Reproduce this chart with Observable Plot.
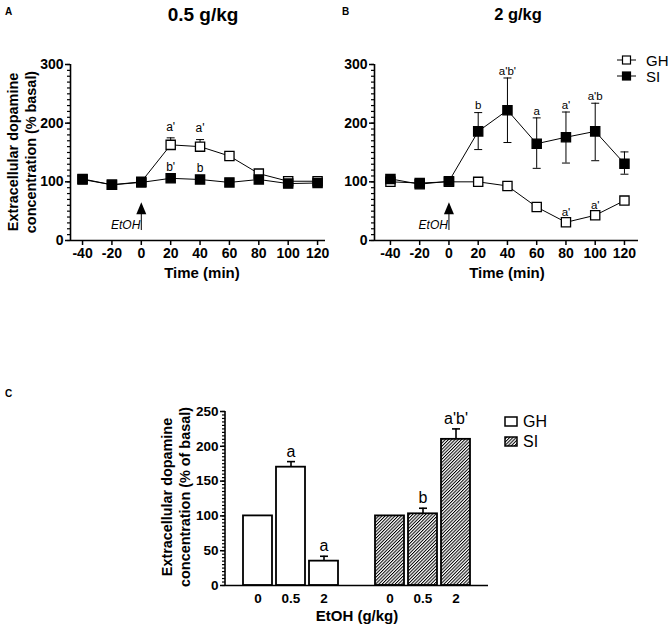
<!DOCTYPE html>
<html><head><meta charset="utf-8">
<script src="https://cdn.jsdelivr.net/npm/d3@7"></script>
<script src="https://cdn.jsdelivr.net/npm/@observablehq/plot@0.6"></script>
<style>
body{margin:0;background:#fff;}
#fig{position:relative;width:669px;height:626px;overflow:hidden;background:#fff;}
#fig > svg{position:absolute;}
#fig text{-webkit-font-smoothing:antialiased;}
</style></head>
<body><div id="fig"></div>
<script>
// ---------- data ----------
const times = [-40, -20, 0, 20, 40, 60, 80, 100, 120];
const groups = ["GH", "SI"];
// Panel A: 0.5 g/kg
const a_GH     = [105, 95, 100, 163, 160, 144, 114, 101, 101];
const a_GH_hi  = [null, null, null, 175, 172, null, null, null, null];
const a_GH_sig = ["", "", "", "a'", "a'", "", "", "", ""];
const a_SI     = [104, 95, 99, 106, 104, 99, 104, 97, 98];
const a_SI_sig = ["", "", "", "b'", "b", "", "", "", ""];
// Panel B: 2 g/kg
const b_GH     = [100, 98, 100, 100, 93, 57, 31, 43, 68];
const b_GH_sig = ["", "", "", "", "", "", "a'", "a'", ""];
const b_SI     = [105, 96, 101, 186, 222, 165, 176, 186, 131];
const b_SI_lo  = [null, null, null, 155, 167, 123, 132, 136, 113];
const b_SI_hi  = [null, null, null, 218, 277, 209, 219, 234, 151];
const b_SI_sig = ["", "", "", "b", "a'b'", "a", "a'", "a'b", ""];
// Panel C
const doses    = ["0", "0.5", "2"];
const c_GH     = [100, 170, 35];
const c_GH_hi  = [null, 178, 42];
const c_GH_sig = ["", "a", "a"];
const c_SI     = [100, 103, 210];
const c_SI_hi  = [null, 111, 225];
const c_SI_sig = ["", "b", "a'b'"];
// ticks
const yTicksTime = [0, 100, 200, 300];
const yMinorTime = d3.range(0, 301, 10);
const xTicksTime = [-40, -20, 0, 20, 40, 60, 80, 100, 120];
const yTicksBar  = [0, 50, 100, 150, 200, 250];
const yMinorBar  = d3.range(0, 251, 5);
// EtOH injection marker (in data units)
const etoh = {t: 0, tip: 65, base: 45, tail: 17, labelY: 19};

// ---------- helpers ----------
const FONT = '"Liberation Sans", Arial, Helvetica, sans-serif';
const capSym = {draw(ctx) { ctx.moveTo(-4, 0); ctx.lineTo(4, 0); }};
const triSym = {draw(ctx) { ctx.moveTo(0, -6); ctx.lineTo(5, 6); ctx.lineTo(-5, 6); ctx.closePath(); }};
const series = (g, vals, lo, hi, sig) =>
  times.map((t, i) => ({t, g, v: vals[i], lo: lo ? lo[i] : null, hi: hi ? hi[i] : null, sig: sig ? sig[i] : ""}));
const baseStyle = {fontFamily: FONT, fontSize: "14px", fontWeight: "bold", color: "#000", background: "transparent", overflow: "visible"};

function timePanel({gh, si, width, marginLeft, marginRight, xDomain, ghDy, siDy, sigSize}) {
  const all = [...gh, ...si];
  const withErr = all.filter(d => d.hi != null);
  return Plot.plot({
    width, height: 300, marginLeft, marginRight, marginTop: 64, marginBottom: 60,
    x: {domain: xDomain}, y: {domain: [0, 300]},
    style: baseStyle,
    marks: [
      Plot.axisY(yMinorTime, {tickSize: 3, tickFormat: () => "", label: null, strokeWidth: 1.2}),
      Plot.axisY(yTicksTime, {tickSize: 5, tickPadding: 2, tickFormat: d => String(d), label: null, strokeWidth: 1.5, fontSize: 14, fill: "#000"}),
      Plot.axisX(xTicksTime, {tickSize: 5, tickPadding: 3, tickFormat: d => String(d), label: null, strokeWidth: 1.5, fontSize: 14, fill: "#000"}),
      Plot.ruleY([0], {strokeWidth: 1.6}),
      Plot.ruleX([xDomain[0]], {y1: 0, y2: 300, strokeWidth: 1.6}),
      Plot.ruleX([etoh], {x: "t", y1: "tail", y2: "base", strokeWidth: 1}),
      Plot.dot([etoh], {x: "t", y: d => (d.tip + d.base) / 2, symbol: triSym, fill: "black", stroke: "none"}),
      Plot.text([etoh], {x: "t", y: "labelY", text: () => "EtOH", textAnchor: "end", dx: -1, lineAnchor: "bottom",
        fontStyle: "italic", fontWeight: "normal", fontSize: 12, fill: "#000"}),
      Plot.ruleX(withErr, {x: "t", y1: d => d.lo ?? d.v, y2: "hi", strokeWidth: 1}),
      Plot.dot(withErr, {x: "t", y: "hi", symbol: capSym, stroke: "black", fill: "none", strokeWidth: 1}),
      Plot.dot(withErr.filter(d => d.lo != null), {x: "t", y: "lo", symbol: capSym, stroke: "black", fill: "none", strokeWidth: 1}),
      Plot.line(gh, {x: "t", y: "v", stroke: "black", strokeWidth: 1}),
      Plot.line(si, {x: "t", y: "v", stroke: "black", strokeWidth: 1}),
      Plot.dot(gh, {x: "t", y: "v", symbol: "square", r: 5.2, fill: "white", stroke: "black", strokeWidth: 1.3}),
      Plot.dot(si, {x: "t", y: "v", symbol: "square", r: 5.2, fill: "black", stroke: "black", strokeWidth: 1.3}),
      Plot.text(gh.filter(d => d.sig), {x: "t", y: d => d.hi ?? d.v, text: "sig", dy: ghDy, fontWeight: "normal", fontSize: sigSize, fill: "#000"}),
      Plot.text(si.filter(d => d.sig), {x: "t", y: d => d.hi ?? d.v, text: "sig", dy: siDy, fontWeight: "normal", fontSize: sigSize, fill: "#000"})
    ]
  });
}

const fig = document.getElementById("fig");

// ---------- Panel A ----------
const chartA = timePanel({
  gh: series(groups[0], a_GH, null, a_GH_hi, a_GH_sig),
  si: series(groups[1], a_SI, null, null, a_SI_sig),
  width: 335, marginLeft: 70, marginRight: 10, xDomain: [-48.2, 125.4], ghDy: -11, siDy: -11, sigSize: 12
});
chartA.style.left = "0px"; chartA.style.top = "0px";
fig.appendChild(chartA);

// ---------- Panel B ----------
const chartB = timePanel({
  gh: series(groups[0], b_GH, null, null, b_GH_sig),
  si: series(groups[1], b_SI, b_SI_lo, b_SI_hi, b_SI_sig),
  width: 334, marginLeft: 39, marginRight: 31, xDomain: [-50.9, 129.6], ghDy: -10, siDy: -7, sigSize: 11.5
});
chartB.style.left = "335px"; chartB.style.top = "0px";
fig.appendChild(chartB);

// ---------- Panel C ----------
const slots = [...doses.map(d => groups[0] + "|" + d), "gap", ...doses.map(d => groups[1] + "|" + d)];
const cGH = doses.map((d, i) => ({key: groups[0] + "|" + d, v: c_GH[i], hi: c_GH_hi[i], sig: c_GH_sig[i]}));
const cSI = doses.map((d, i) => ({key: groups[1] + "|" + d, v: c_SI[i], hi: c_SI_hi[i], sig: c_SI_sig[i]}));
const cAll = [...cGH, ...cSI];
const cErr = cAll.filter(d => d.hi != null);
const chartC = Plot.plot({
  width: 500, height: 246, marginLeft: 225, marginRight: 12, marginTop: 31, marginBottom: 41,
  x: {type: "band", domain: slots, paddingInner: 0.134, paddingOuter: 0.49},
  y: {domain: [0, 250]},
  style: baseStyle,
  marks: [
    Plot.axisY(yMinorBar, {tickSize: 3, tickFormat: () => "", label: null, strokeWidth: 1.2}),
    Plot.axisY(yTicksBar, {tickSize: 5, tickPadding: 2, tickFormat: d => String(d), label: null, strokeWidth: 1.5, fontSize: 13.5, fill: "#000"}),
    Plot.axisX(slots.filter(s => s !== "gap"), {tickSize: 0, tickPadding: 8, tickFormat: s => s.split("|")[1], label: null, fontSize: 13.5, fill: "#000"}),
    Plot.ruleX(cErr, {x: "key", y1: "v", y2: "hi", strokeWidth: 1.6}),
    Plot.dot(cErr, {x: "key", y: "hi", symbol: capSym, stroke: "black", fill: "none", strokeWidth: 1.6}),
    Plot.barY(cGH, {x: "key", y: "v", fill: "white", stroke: "black", strokeWidth: 1.8}),
    Plot.barY(cSI, {x: "key", y: "v", fill: "url(#hatchC)", stroke: "black", strokeWidth: 1.8}),
    Plot.text(cErr, {x: "key", y: "hi", text: "sig", lineAnchor: "bottom", dy: -5, fontWeight: "normal", fontSize: 16, fill: "#000"}),
    Plot.ruleY([0], {strokeWidth: 1.6})
  ]
});
chartC.style.left = "0px"; chartC.style.top = "380px";
{
  const s = d3.select(chartC);
  const defs = s.insert("defs", ":first-child");
  const p = defs.append("pattern").attr("id", "hatchC").attr("patternUnits", "userSpaceOnUse")
    .attr("width", 2.3).attr("height", 2.3).attr("patternTransform", "rotate(45)");
  p.append("rect").attr("width", 2.3).attr("height", 2.3).attr("fill", "white");
  p.append("line").attr("x1", 0.5).attr("y1", 0).attr("x2", 0.5).attr("y2", 2.3).attr("stroke", "black").attr("stroke-width", 1);
  const y = chartC.scale("y");
  s.append("line").attr("x1", 225).attr("x2", 225)
    .attr("y1", y.apply(0)).attr("y2", y.apply(250)).attr("stroke", "black").attr("stroke-width", 1.6);
}
fig.appendChild(chartC);

// ---------- overlay text: titles, axis titles, legends ----------
const ov = d3.select(fig).append("svg").attr("width", 669).attr("height", 626)
  .style("left", "0px").style("top", "0px").style("pointer-events", "none")
  .attr("font-family", FONT);
const odefs = ov.append("defs");
const op = odefs.append("pattern").attr("id", "hatchL").attr("patternUnits", "userSpaceOnUse")
  .attr("width", 2.3).attr("height", 2.3).attr("patternTransform", "rotate(45)");
op.append("rect").attr("width", 2.3).attr("height", 2.3).attr("fill", "white");
op.append("line").attr("x1", 0.5).attr("y1", 0).attr("x2", 0.5).attr("y2", 2.3).attr("stroke", "black").attr("stroke-width", 1);

function txt(x, y, s, o = {}) {
  const t = ov.append("text").attr("x", x).attr("y", y).text(s)
    .attr("font-size", o.size || 14).attr("font-weight", o.weight || "bold")
    .attr("text-anchor", o.anchor || "middle").attr("fill", "#000");
  if (o.baseline) t.attr("dominant-baseline", o.baseline);
  if (o.rotate) t.attr("transform", `rotate(-90 ${x} ${y})`);
  return t;
}
// panel letters
txt(5, 15, "A", {size: 10, anchor: "start"});
txt(342, 15, "B", {size: 10, anchor: "start"});
txt(5, 397, "C", {size: 10, anchor: "start"});
// titles
txt(203, 21, "0.5 g/kg", {size: 19});
txt(518, 20, "2 g/kg", {size: 16.5});
// y titles
txt(13, 152, "Extracellular dopamine", {size: 14.4, rotate: true, baseline: "central"});
txt(31, 152, "concentration (% basal)", {size: 14.4, rotate: true, baseline: "central"});
txt(167, 497, "Extracellular dopamine", {size: 14.4, rotate: true, baseline: "central"});
txt(185, 497, "concentration (% of basal)", {size: 14.4, rotate: true, baseline: "central"});
// x titles
txt(202, 272, "Time (min)", {size: 15, baseline: "central"});
txt(507, 272, "Time (min)", {size: 15, baseline: "central"});
txt(357, 615, "EtOH (g/kg)", {size: 15, baseline: "central"});
// legend B
[[groups[0], 60, "white"], [groups[1], 76, "black"]].forEach(([g, y, f]) => {
  ov.append("line").attr("x1", 617).attr("x2", 636).attr("y1", y).attr("y2", y).attr("stroke", "black").attr("stroke-width", 1);
  ov.append("rect").attr("x", 622.5).attr("y", y - 4).attr("width", 8).attr("height", 8).attr("fill", f).attr("stroke", "black").attr("stroke-width", 1.2);
  txt(646, y, g, {size: 15, weight: "normal", anchor: "start", baseline: "central"});
});
// legend C
[[groups[0], 421.5, "white"], [groups[1], 441.5, "url(#hatchL)"]].forEach(([g, y, f]) => {
  ov.append("rect").attr("x", 505).attr("y", y - 4.5).attr("width", 12).attr("height", 9).attr("fill", f).attr("stroke", "black").attr("stroke-width", 1.5);
  txt(523, y, g, {size: 16, weight: "normal", anchor: "start", baseline: "central"});
});
</script>
</body></html>
